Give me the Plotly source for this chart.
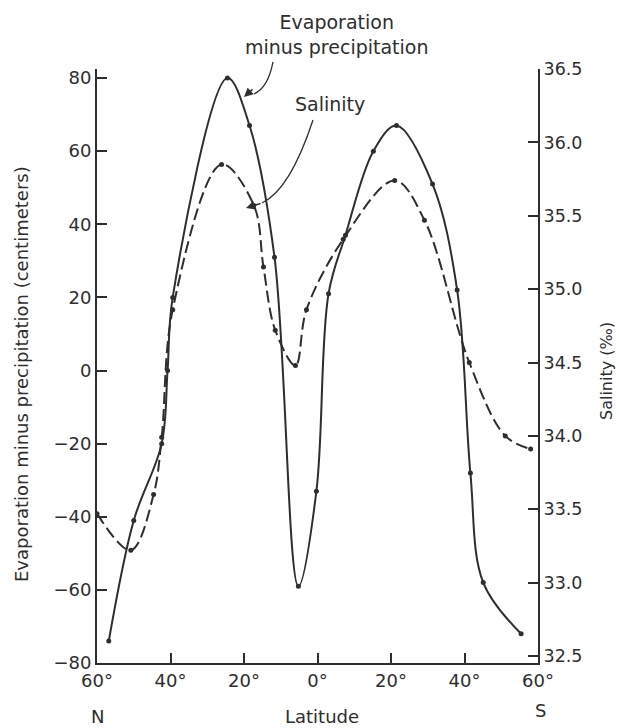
import plotly.graph_objects as go

# Latitude: negative = North, positive = South
lat_ep = [-56.8, -50.0, -42.4, -40.8, -39.4, -24.5, -18.5, -11.7, -5.2, -0.3, 3.0, 7.6, 15.2, 21.5, 31.3, 38.0, 41.6, 45.1, 55.4]
ep_cm = [-74, -41, -20, 0, 20, 80, 67, 31, -59, -33, 21, 37, 60, 67, 51, 22, -28, -58, -72]

lat_sal = [-60, -50.8, -44.6, -42.4, -39.4, -26.1, -17.3, -14.7, -11.5, -6.0, -3.0, 7.0, 21.0, 29.1, 41.3, 51.1, 58.0]
salinity = [33.47, 33.22, 33.6, 33.99, 34.86, 35.85, 35.57, 35.15, 34.72, 34.48, 34.86, 35.34, 35.74, 35.47, 34.5, 34.0, 33.91]

x_tickvals = [-60, -40, -20, 0, 20, 40, 60]
x_ticktext = ["60°", "40°", "20°", "0°", "20°", "40°", "60°"]
y_tickvals = [-80, -60, -40, -20, 0, 20, 40, 60, 80]
y_ticktext = ["−80", "−60", "−40", "−20", "0", "20", "40", "60", "80"]
y2_tickvals = [32.5, 33.0, 33.5, 34.0, 34.5, 35.0, 35.5, 36.0, 36.5]
y2_ticktext = ["32.5", "33.0", "33.5", "34.0", "34.5", "35.0", "35.5", "36.0", "36.5"]

INK = "#2e2e2e"
FONT = "DejaVu Sans, Liberation Sans, Arial, sans-serif"

# plot area in window pixels (page body margin removed below)
L, R, T, B = 97, 538, 69, 663
W, H = 619, 728

def px(x):
    return (x - L) / (R - L)

def py(y):
    return (B - y) / (B - T)

fig = go.Figure()
fig.add_trace(go.Scatter(
    x=lat_ep, y=ep_cm, mode="lines+markers",
    line=dict(color=INK, width=2, shape="spline", smoothing=1.0),
    marker=dict(color=INK, size=5), yaxis="y", showlegend=False))
fig.add_trace(go.Scatter(
    x=lat_sal, y=salinity, mode="lines+markers",
    line=dict(color=INK, width=2, shape="spline", smoothing=1.0, dash="12px,5px"),
    marker=dict(color=INK, size=5), yaxis="y2", showlegend=False))

ppu = (663 - 78) / 160.0
y_top = 80 + (78 - T) / ppu
ppu2 = (656 - 69) / 8.0  # px per 0.5
y2_bot = 32.5 - (B - 656) / ppu2 * 0.5

axis_common = dict(ticks="inside", ticklen=10, tickcolor=INK, tickwidth=1.5,
                   showline=True, linecolor=INK, linewidth=2, showgrid=False,
                   zeroline=False)

fig.update_layout(
    width=W, height=H,
    margin=dict(l=L, r=W - R, t=T, b=H - B),
    paper_bgcolor="white", plot_bgcolor="white",
    font=dict(family=FONT, color=INK, size=18),
    xaxis=dict(range=[-60, 60], tickvals=x_tickvals, ticktext=x_ticktext,
               tickfont=dict(size=18), **axis_common),
    yaxis=dict(range=[-80, y_top], tickvals=y_tickvals, ticktext=y_ticktext,
               tickfont=dict(size=18), **axis_common),
    yaxis2=dict(range=[y2_bot, 36.5], tickvals=y2_tickvals, ticktext=y2_ticktext,
                overlaying="y", side="right", tickfont=dict(size=17.5), **axis_common),
)

def label(text, x, y, size, angle=0):
    return dict(text=text, x=px(x), y=py(y), xref="paper", yref="paper",
                showarrow=False, textangle=angle, xanchor="center", yanchor="middle",
                align="center", font=dict(size=size))

ann = [
    label("Evaporation minus precipitation (centimeters)", 22, 374, 18, -90),
    label("Salinity (‰)", 606, 371, 16, -90),
    label("Latitude", 322, 716, 18),
    label("N", 97, 716, 18),
    label("S", 540, 710, 18),
    label("Evaporation<br>minus precipitation", 337, 34, 19),
    label("Salinity", 330, 104, 19),
]
ann.append(dict(text="", x=px(244), y=py(97), xref="paper", yref="paper",
                ax=10, ay=-9, showarrow=True, arrowhead=2, arrowsize=1.2,
                arrowwidth=1.5, arrowcolor=INK))
ann.append(dict(text="", x=px(246), y=py(208), xref="paper", yref="paper",
                ax=16, ay=-5, showarrow=True, arrowhead=2, arrowsize=1.2,
                arrowwidth=1.5, arrowcolor=INK))
fig.update_layout(annotations=ann)

def P(x, y):
    return f"{px(x):.4f},{py(y):.4f}"

fig.add_shape(type="path", xref="paper", yref="paper",
              path=f"M {P(273, 62)} Q {P(268, 88)} {P(254, 94)}",
              line=dict(color=INK, width=1.3))
fig.add_shape(type="path", xref="paper", yref="paper",
              path=f"M {P(313, 120)} Q {P(290, 190)} {P(262, 203)}",
              line=dict(color=INK, width=1.3))

fig.write_html("out.html",
               config={"displayModeBar": False},
               post_script="document.body.style.margin='0';document.body.style.overflow='hidden';")
